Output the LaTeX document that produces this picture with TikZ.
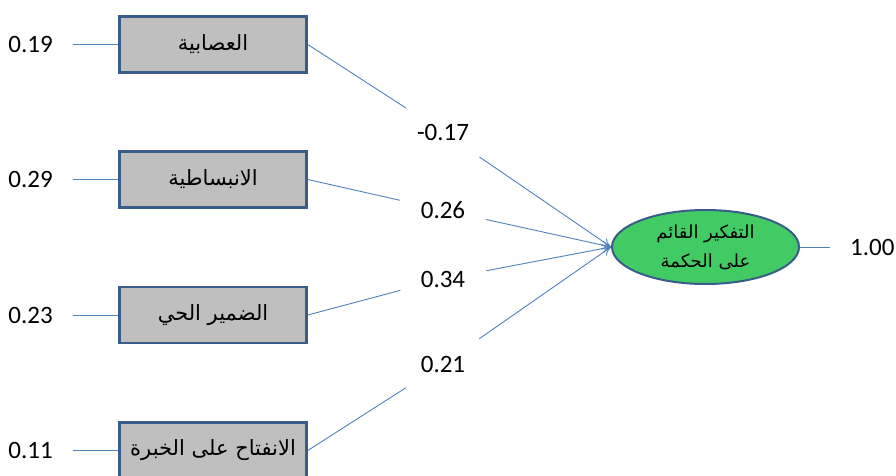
\documentclass[tikz,border=0pt]{standalone}
\usepackage{fontspec}
\setmainfont{Carlito}
\newfontfamily\arabicfont[Script=Arabic]{DejaVu Sans}
\TeXXeTstate=1
\usetikzlibrary{arrows.meta,shapes.geometric}
\definecolor{linkblue}{RGB}{79,129,189}
\definecolor{frameblue}{RGB}{56,93,138}
\definecolor{boxgray}{RGB}{191,191,191}
\definecolor{latentgreen}{RGB}{66,203,100}
\tikzset{
  var/.style={draw=frameblue, line width=2.6pt, fill=boxgray, minimum width=187pt, minimum height=56pt, inner sep=0pt,
              font=\arabicfont\fontsize{21}{24}\selectfont},
  latent/.style={ellipse, draw=frameblue, line width=2pt, fill=latentgreen, minimum width=187pt, minimum height=74pt, inner sep=0pt,
                 font=\arabicfont\fontsize{18}{29}\selectfont, align=center},
  num/.style={font=\fontsize{25}{30}\selectfont, inner ysep=0pt},
  errnum/.style={num, inner xsep=20pt},
  coef/.style={num, circle, minimum size=88pt, inner sep=0pt},
  link/.style={draw=linkblue, line width=0.9pt},
  path/.style={link, -{To[length=9pt,width=9pt]}}
}
\begin{document}
\begin{tikzpicture}[x=1pt, y=-1pt]
  \useasboundingbox (0,0) rectangle (896,476);
  \clip (0,0) rectangle (896,476);

  % observed variables
  \node[var] (b1) at (213,44.5)  {\beginR العصابية\endR};
  \node[var] (b2) at (213,179.5) {\beginR الانبساطية\endR};
  \node[var] (b3) at (213,315)   {\beginR الضمير الحي\endR};
  \node[var] (b4) at (213,450.5) {\beginR الانفتاح على الخبرة\endR};

  % latent outcome
  \node[latent] (w) at (705.5,247) {\beginR التفكير القائم\endR\\ \beginR على الحكمة\endR};

  % error terms
  \node[errnum, anchor=east] (e1) at (73,44.5)  {0.19};
  \node[errnum, anchor=east] (e2) at (73,179.5) {0.29};
  \node[errnum, anchor=east] (e3) at (73,315)   {0.23};
  \node[errnum, anchor=east] (e4) at (73,450.5) {0.11};
  \node[errnum, anchor=west] (ew) at (830,247)  {1.00};

  \draw[link] (e1) -- (b1.west);
  \draw[link] (e2) -- (b2.west);
  \draw[link] (e3) -- (b3.west);
  \draw[link] (e4) -- (b4.west);
  \draw[link] (w.east) -- (ew);

  % path coefficients
  \node[coef] (c1) at (443,132) {-0.17};
  \node[coef] (c2) at (443,210) {0.26};
  \node[coef] (c3) at (443,279) {0.34};
  \node[coef] (c4) at (443,364) {0.21};

  \draw[link] (b1.east) -- (c1);
  \draw[link] (b2.east) -- (c2);
  \draw[link] (b3.east) -- (c3);
  \draw[link] (b4.east) -- (c4);

  \draw[path] (c1) -- (w.west);
  \draw[path] (c2) -- (w.west);
  \draw[path] (c3) -- (w.west);
  \draw[path] (c4) -- (w.west);
\end{tikzpicture}
\end{document}
